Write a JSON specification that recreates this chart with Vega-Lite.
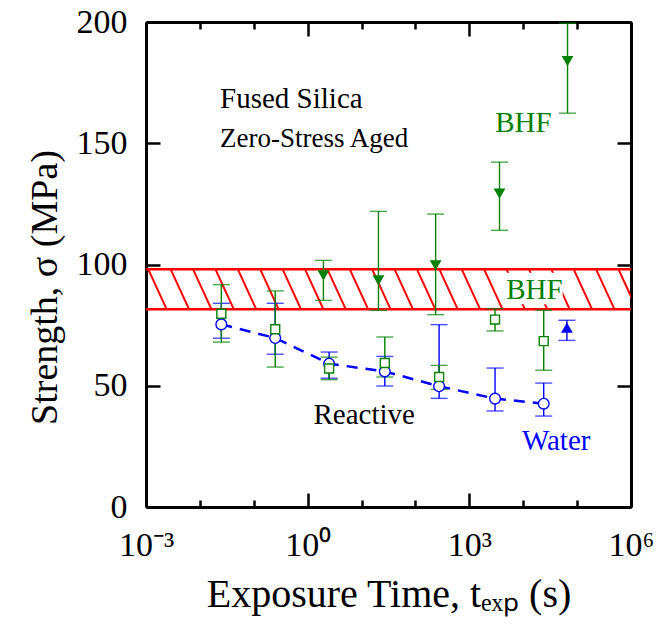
{
  "$schema": "https://vega.github.io/schema/vega-lite/v6.json",
  "width": 485,
  "height": 485,
  "autosize": "none",
  "padding": {"left": 146, "top": 22, "right": 36, "bottom": 124},
  "config": {
    "view": {"stroke": null},
    "axis": {
      "grid": false,
      "domainColor": "black",
      "tickColor": "black",
      "domainWidth": 3,
      "tickWidth": 2.5,
      "labelFont": "Liberation Serif",
      "labelFontSize": 34,
      "labelColor": "black",
      "titleFont": "Liberation Serif",
      "titleFontSize": 40,
      "titleFontWeight": "normal",
      "titleColor": "black",
      "labelFlush": false,
      "labelOverlap": false,
      "labelBound": false
    }
  },
  "resolve": {"axis": {"x": "independent", "y": "independent"}},
  "layer": [
    {
      "data": {"values": [
        {"a": 0.000424, "b": 0.00093},
        {"a": 0.001104, "b": 0.002421},
        {"a": 0.002874, "b": 0.006302},
        {"a": 0.007482, "b": 0.016407},
        {"a": 0.019476, "b": 0.042707},
        {"a": 0.0507, "b": 0.11118},
        {"a": 0.13197, "b": 0.28938},
        {"a": 0.34355, "b": 0.75334},
        {"a": 0.8943, "b": 1.961},
        {"a": 2.328, "b": 5.1048},
        {"a": 6.06, "b": 13.288},
        {"a": 15.776, "b": 34.594},
        {"a": 41.07, "b": 90.06},
        {"a": 106.9, "b": 234.4},
        {"a": 278.3, "b": 610.3},
        {"a": 724.4, "b": 1588.5},
        {"a": 1886, "b": 4135.6},
        {"a": 4909, "b": 10764},
        {"a": 12779, "b": 28022},
        {"a": 33267, "b": 72948},
        {"a": 86598, "b": 189892},
        {"a": 225420, "b": 494300},
        {"a": 586855, "b": 1286860}
      ]},
      "mark": {"type": "rule", "color": "#ff0000", "strokeWidth": 2, "clip": true},
      "encoding": {
        "x": {
          "field": "a", "type": "quantitative",
          "scale": {"type": "log", "domain": [0.001, 1000000], "nice": false},
          "axis": {
            "orient": "bottom",
            "values": [0.001, 1, 1000, 1000000],
            "tickSize": -14,
            "labelPadding": 35,
            "labelExpr": "datum.value < 0.01 ? '10⁻³' : datum.value < 10 ? '10⁰' : datum.value < 10000 ? '10³' : '10⁶'",
            "title": "Exposure Time, tₑₓₚ (s)",
            "titlePadding": 12
          }
        },
        "x2": {"field": "b"},
        "y": {
          "datum": 98, "type": "quantitative",
          "scale": {"domain": [0, 200], "nice": false},
          "axis": {
            "orient": "left",
            "values": [0, 50, 100, 150, 200],
            "tickSize": -14,
            "labelPadding": 33,
            "title": "Strength, σ (MPa)",
            "titleFontSize": 38,
            "titlePadding": 12,
            "titleY": 265
          }
        },
        "y2": {"datum": 81.5}
      }
    },
    {
      "data": {"values": [{"a": 4700, "b": 54000, "lo": 83.6, "hi": 96.6}]},
      "mark": {"type": "rect", "color": "white"},
      "encoding": {
        "x": {"field": "a", "type": "quantitative",
          "axis": {"orient": "top", "values": [0.001, 1, 1000, 1000000], "tickSize": -14, "labels": false, "title": null}},
        "x2": {"field": "b"},
        "y": {"field": "lo", "type": "quantitative",
          "axis": {"orient": "right", "values": [0, 50, 100, 150, 200], "tickSize": -14, "labels": false, "title": null}},
        "y2": {"field": "hi"}
      }
    },
    {
      "data": {"values": [{"a": 0.001, "b": 1000000, "v": 98}, {"a": 0.001, "b": 1000000, "v": 81.5}]},
      "mark": {"type": "rule", "color": "#ff0000", "strokeWidth": 2.5},
      "encoding": {
        "x": {"field": "a", "type": "quantitative",
          "axis": {"orient": "bottom", "values": [0.01, 0.1, 10, 100, 10000, 100000], "tickSize": -7, "labels": false, "domain": false, "title": null}},
        "x2": {"field": "b"},
        "y": {"field": "v", "type": "quantitative", "axis": null}
      }
    },
    {
      "data": {"values": [
        {"t": 0.025, "s": 75.3, "lo": 69.6, "hi": 84.0},
        {"t": 0.25, "s": 69.7, "lo": 63.0, "hi": 84.0},
        {"t": 2.5, "s": 59.1, "lo": 53.1, "hi": 63.9},
        {"t": 27, "s": 55.9, "lo": 49.9, "hi": 62.1},
        {"t": 275, "s": 49.8, "lo": 44.8, "hi": 75.2},
        {"t": 3000, "s": 44.7, "lo": 39.6, "hi": 57.3},
        {"t": 24000, "s": 42.6, "lo": 37.5, "hi": 51.1}
      ]},
      "layer": [
        {"mark": {"type": "line", "color": "#0000ff", "strokeWidth": 2.5, "strokeDash": [11, 8]},
         "encoding": {
           "x": {"field": "t", "type": "quantitative",
             "axis": {"orient": "top", "values": [0.01, 0.1, 10, 100, 10000, 100000], "tickSize": -7, "labels": false, "domain": false, "title": null}},
           "y": {"field": "s", "type": "quantitative", "axis": null}}},
        {"mark": {"type": "rule", "color": "#0000ff", "strokeWidth": 1.4},
         "encoding": {"x": {"field": "t", "type": "quantitative"}, "y": {"field": "lo", "type": "quantitative"}, "y2": {"field": "hi"}}},
        {"mark": {"type": "tick", "orient": "horizontal", "color": "#0000ff", "thickness": 1.4, "size": 17},
         "encoding": {"x": {"field": "t", "type": "quantitative"}, "y": {"field": "lo", "type": "quantitative"}}},
        {"mark": {"type": "tick", "orient": "horizontal", "color": "#0000ff", "thickness": 1.4, "size": 17},
         "encoding": {"x": {"field": "t", "type": "quantitative"}, "y": {"field": "hi", "type": "quantitative"}}}
      ]
    },
    {
      "data": {"values": [{"t": 64700, "s": 74.0, "lo": 68.7, "hi": 77.0}]},
      "layer": [
        {"mark": {"type": "rule", "color": "#0000ff", "strokeWidth": 1.4},
         "encoding": {"x": {"field": "t", "type": "quantitative", "axis": null}, "y": {"field": "lo", "type": "quantitative", "axis": null}, "y2": {"field": "hi"}}},
        {"mark": {"type": "tick", "orient": "horizontal", "color": "#0000ff", "thickness": 1.4, "size": 17},
         "encoding": {"x": {"field": "t", "type": "quantitative", "axis": null}, "y": {"field": "lo", "type": "quantitative", "axis": null}}},
        {"mark": {"type": "tick", "orient": "horizontal", "color": "#0000ff", "thickness": 1.4, "size": 17},
         "encoding": {"x": {"field": "t", "type": "quantitative", "axis": null}, "y": {"field": "hi", "type": "quantitative", "axis": null}}},
        {"mark": {"type": "point", "shape": "triangle-up", "filled": true, "color": "#0000ff", "size": 140, "opacity": 1},
         "encoding": {"x": {"field": "t", "type": "quantitative", "axis": null}, "y": {"field": "s", "type": "quantitative", "axis": null}}}
      ]
    },
    {
      "data": {"values": [
        {"t": 0.025, "s": 79.7, "lo": 68.0, "hi": 91.7},
        {"t": 0.25, "s": 73.3, "lo": 57.7, "hi": 89.1},
        {"t": 2.5, "s": 57.1, "lo": 52.5, "hi": 61.8},
        {"t": 27, "s": 59.4, "lo": 53.6, "hi": 70.1},
        {"t": 275, "s": 53.6, "lo": 48.5, "hi": 58.4},
        {"t": 3000, "s": 77.3, "lo": 72.6, "hi": 81.8},
        {"t": 24000, "s": 68.4, "lo": 56.4, "hi": 81.1}
      ]},
      "layer": [
        {"mark": {"type": "rule", "color": "#008000", "strokeWidth": 1.4},
         "encoding": {"x": {"field": "t", "type": "quantitative", "axis": null}, "y": {"field": "lo", "type": "quantitative", "axis": null}, "y2": {"field": "hi"}}},
        {"mark": {"type": "tick", "orient": "horizontal", "color": "#008000", "thickness": 1.4, "size": 17},
         "encoding": {"x": {"field": "t", "type": "quantitative", "axis": null}, "y": {"field": "lo", "type": "quantitative", "axis": null}}},
        {"mark": {"type": "tick", "orient": "horizontal", "color": "#008000", "thickness": 1.4, "size": 17},
         "encoding": {"x": {"field": "t", "type": "quantitative", "axis": null}, "y": {"field": "hi", "type": "quantitative", "axis": null}}}
      ]
    },
    {
      "data": {"values": [
        {"t": 1.96, "s": 95.5, "lo": 85.2, "hi": 101.7},
        {"t": 20.6, "s": 93.5, "lo": 81.1, "hi": 121.9},
        {"t": 237, "s": 99.6, "lo": 79.3, "hi": 120.8},
        {"t": 3630, "s": 129.2, "lo": 114.1, "hi": 142.2},
        {"t": 66400, "s": 183.9, "lo": 162.4, "hi": 199.5}
      ]},
      "layer": [
        {"mark": {"type": "rule", "color": "#008000", "strokeWidth": 1.4},
         "encoding": {"x": {"field": "t", "type": "quantitative", "axis": null}, "y": {"field": "lo", "type": "quantitative", "axis": null}, "y2": {"field": "hi"}}},
        {"mark": {"type": "tick", "orient": "horizontal", "color": "#008000", "thickness": 1.4, "size": 17},
         "encoding": {"x": {"field": "t", "type": "quantitative", "axis": null}, "y": {"field": "lo", "type": "quantitative", "axis": null}}},
        {"mark": {"type": "tick", "orient": "horizontal", "color": "#008000", "thickness": 1.4, "size": 17},
         "encoding": {"x": {"field": "t", "type": "quantitative", "axis": null}, "y": {"field": "hi", "type": "quantitative", "axis": null}}},
        {"mark": {"type": "point", "shape": "triangle-down", "filled": true, "color": "#008000", "size": 140, "opacity": 1},
         "encoding": {"x": {"field": "t", "type": "quantitative", "axis": null}, "y": {"field": "s", "type": "quantitative", "axis": null}}}
      ]
    },
    {
      "data": {"values": [
        {"t": 0.025, "s": 75.3},
        {"t": 0.25, "s": 69.7},
        {"t": 2.5, "s": 59.1},
        {"t": 27, "s": 55.9},
        {"t": 275, "s": 49.8},
        {"t": 3000, "s": 44.7},
        {"t": 24000, "s": 42.6}
      ]},
      "mark": {"type": "point", "shape": "circle", "filled": true, "fill": "white", "stroke": "#0000ff", "strokeWidth": 1.4, "size": 115, "opacity": 1},
      "encoding": {"x": {"field": "t", "type": "quantitative", "axis": null}, "y": {"field": "s", "type": "quantitative", "axis": null}}
    },
    {
      "data": {"values": [
        {"t": 0.025, "s": 79.7},
        {"t": 0.25, "s": 73.3},
        {"t": 2.5, "s": 57.1},
        {"t": 27, "s": 59.4},
        {"t": 275, "s": 53.6},
        {"t": 3000, "s": 77.3},
        {"t": 24000, "s": 68.4}
      ]},
      "mark": {"type": "point", "shape": "square", "filled": true, "fill": "white", "stroke": "#008000", "strokeWidth": 1.4, "size": 80, "opacity": 1},
      "encoding": {"x": {"field": "t", "type": "quantitative", "axis": null}, "y": {"field": "s", "type": "quantitative", "axis": null}}
    },
    {
      "data": {"values": [{"t": 0.0237, "s": 164.7, "label": "Fused Silica"}, {"t": 1.28, "s": 34.1, "label": "Reactive"}]},
      "mark": {"type": "text", "align": "left", "baseline": "alphabetic", "font": "Liberation Serif", "fontSize": 29, "fill": "black"},
      "encoding": {"x": {"field": "t", "type": "quantitative", "axis": null}, "y": {"field": "s", "type": "quantitative", "axis": null}, "text": {"field": "label"}}
    },
    {
      "data": {"values": [{"t": 0.0237, "s": 148.3, "label": "Zero-Stress Aged"}]},
      "mark": {"type": "text", "align": "left", "baseline": "alphabetic", "font": "Liberation Serif", "fontSize": 27, "fill": "black"},
      "encoding": {"x": {"field": "t", "type": "quantitative", "axis": null}, "y": {"field": "s", "type": "quantitative", "axis": null}, "text": {"field": "label"}}
    },
    {
      "data": {"values": [{"t": 3020, "s": 154.6, "label": "BHF"}, {"t": 4830, "s": 85.9, "label": "BHF"}]},
      "mark": {"type": "text", "align": "left", "baseline": "alphabetic", "font": "Liberation Serif", "fontSize": 29, "fill": "#008000"},
      "encoding": {"x": {"field": "t", "type": "quantitative", "axis": null}, "y": {"field": "s", "type": "quantitative", "axis": null}, "text": {"field": "label"}}
    },
    {
      "data": {"values": [{"t": 9460, "s": 23.4, "label": "Water"}]},
      "mark": {"type": "text", "align": "left", "baseline": "alphabetic", "font": "Liberation Serif", "fontSize": 29, "fill": "#0000ff"},
      "encoding": {"x": {"field": "t", "type": "quantitative", "axis": null}, "y": {"field": "s", "type": "quantitative", "axis": null}, "text": {"field": "label"}}
    }
  ]
}
